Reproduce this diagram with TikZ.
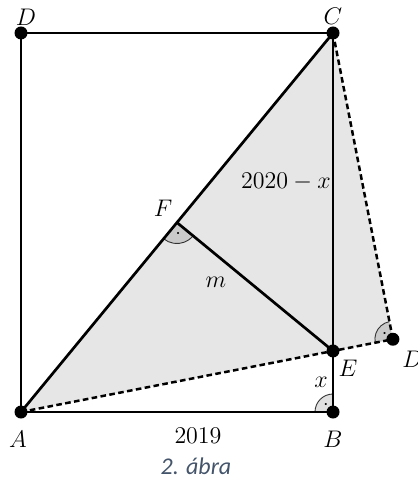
\documentclass[tikz,border=0pt]{standalone}
\usepackage{fontspec}
\newfontfamily\abrafont{Carlito}
\usetikzlibrary{calc,angles}
\definecolor{lapszurke}{HTML}{E6E6E6}
\definecolor{abrakek}{HTML}{44546A}
\tikzset{
  % vonalak
  el/.style={draw=black,line width=1.35pt,line cap=round,line join=round},
  szagg/.style={draw=black,line width=1.25pt,dash pattern=on 2.8pt off 1.7pt},
  csucs/.style={circle,fill=black,inner sep=0pt,minimum size=6.5pt},
  cimke/.style={font=\fontsize{11.5}{14}\selectfont,inner sep=0pt},
  derek/.style={draw=black!80,line width=0.45pt,fill=black,fill opacity=0.12,
                text opacity=1,angle radius=#1,pic text=$\cdot$,angle eccentricity=0.55},
  derek/.default=10.5pt,
}
\begin{document}
\begin{tikzpicture}[x=0.5pt,y=-0.5pt]
  \useasboundingbox (0,0) rectangle (417,480);
  \coordinate (A) at (21,412);
  \coordinate (B) at (333,412);
  \coordinate (C) at (333,33);
  \coordinate (D) at (21,33);
  \coordinate (P) at ($(A)!(D)!(C)$);
  \coordinate (Dp) at ($(D)!2!(P)$);
  \coordinate (E) at (intersection of A--Dp and B--C);
  \coordinate (F) at ($(A)!(E)!(C)$);
  \fill[lapszurke] (A) -- (C) -- (Dp) -- cycle;
  \pic[derek] {angle=A--F--E};
  \pic[derek=9pt] {angle=E--B--A};
  \pic[derek=9pt] {angle=C--Dp--A};
  \draw[el] (A) -- (B) -- (C) -- (D) -- cycle;
  \draw[el] (A) -- (C);
  \draw[el] (E) -- (F);
  \draw[szagg] (A) -- (Dp);
  \draw[szagg] (C) -- (Dp);
  \foreach \p in {A,B,C,D,E,Dp}
    \node[csucs] (pont\p) at (\p) {};
  \node[cimke] (lA) at (18,439) {$A$};
  \node[cimke] (lB) at (333,439) {$B$};
  \node[cimke] (lC) at (333,16) {$C$};
  \node[cimke] (lD) at (26,17) {$D$};
  \node[cimke] (lE) at (348,368) {$E$};
  \node[cimke] (lF) at (163,208) {$F$};
  \node[cimke,anchor=west] (lDp) at (402,359) {$D'$};
  \node[cimke] (lm) at (216,282) {$m$};
  \node[cimke] (lx) at (321,382) {$x$};
  \node[cimke] (lCE) at (286,182) {$2020-x$};
  \node[cimke] (lAB) at (198,436) {$2019$};
  \node[font=\abrafont\itshape\fontsize{12}{14}\selectfont,text=abrakek] (abra) at (196,466) {2. ábra};
\end{tikzpicture}
\end{document}
